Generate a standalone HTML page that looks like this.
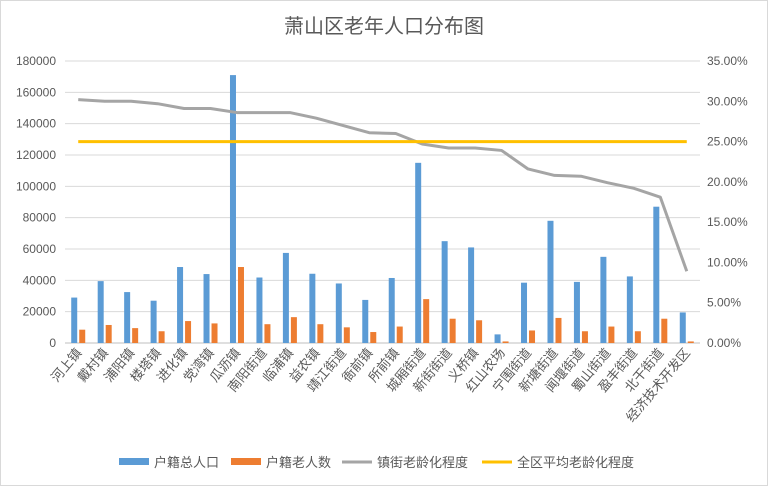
<!DOCTYPE html>
<html><head><meta charset="utf-8"><style>
body{margin:0;background:#fff;}
svg text{font-family:"Liberation Sans","Noto Sans CJK SC",sans-serif;}
</style></head><body>
<svg id="chart" width="768" height="486" viewBox="0 0 768 486" xmlns="http://www.w3.org/2000/svg">
<rect x="0.5" y="0.5" width="767" height="485" fill="#fff" stroke="#d9d9d9"/>
<text x="384" y="33" text-anchor="middle" font-size="20" fill="#595959">萧山区老年人口分布图</text>
<g id="grid"></g><g id="axes"></g><g id="marks"></g>
<g id="legend">
<rect x="119" y="458" width="30" height="7" fill="#5b9bd5"/><text x="154" y="467" font-size="13" fill="#595959">户籍总人口</text>
<rect x="231" y="458" width="30" height="7" fill="#ed7d31"/><text x="266" y="467" font-size="13" fill="#595959">户籍老人数</text>
<line x1="342" y1="462" x2="372" y2="462" stroke="#a5a5a5" stroke-width="3"/><text x="377" y="467" font-size="13" fill="#595959">镇街老龄化程度</text>
<line x1="482" y1="462" x2="512" y2="462" stroke="#ffc000" stroke-width="3"/><text x="517" y="467" font-size="13" fill="#595959">全区平均老龄化程度</text>
</g>
</svg>
<script>
const categories=["河上镇","戴村镇","浦阳镇","楼塔镇","进化镇","党湾镇","瓜沥镇","南阳街道","临浦镇","益农镇","靖江街道","衙前镇","所前镇","城厢街道","新街街道","义桥镇","红山农场","宁围街道","新塘街道","闻堰街道","蜀山街道","盈丰街道","北干街道","经济技术开发区"];
const totalPop=[29000,39500,32500,27000,48500,44000,171000,41800,57500,44200,38000,27500,41500,115000,65000,61000,5500,38500,78000,39000,55000,42500,87000,19500];
const elderly=[8500,11500,9500,7500,14000,12500,48500,12000,16500,12000,10000,7000,10500,28000,15500,14500,1000,8000,16000,7500,10500,7500,15500,1000];
const agingRate=[30.2,30.0,30.0,29.7,29.1,29.1,28.6,28.6,28.6,27.9,27.0,26.1,26.0,24.7,24.2,24.2,23.9,21.6,20.8,20.7,19.9,19.2,18.1,8.9];
const averageRate=25;
const leftTicks=[0,20000,40000,60000,80000,100000,120000,140000,160000,180000];
const rightTicks=[0,5,10,15,20,25,30,35];
const NS="http://www.w3.org/2000/svg";
const X0=65,X1=700,Y0=343,Y1=61;
const bw=(X1-X0)/categories.length;
const yL=v=>Y0-(v/180000)*(Y0-Y1);
const yR=v=>Y0-(v/35)*(Y0-Y1);
const xC=i=>X0+bw*(i+0.5);
function mk(tag,attrs,parent){const e=document.createElementNS(NS,tag);for(const k in attrs)e.setAttribute(k,attrs[k]);document.getElementById(parent).appendChild(e);return e;}
leftTicks.forEach(t=>{
 const g=mk('line',{x1:X0,x2:X1,y1:yL(t),y2:yL(t),stroke:t===0?'#bfbfbf':'#d9d9d9','stroke-width':1},'grid');
 
 
 const tx=mk('text',{x:X0-9,y:yL(t)+4,'text-anchor':'end','font-size':12,fill:'#595959'},'axes');
 tx.textContent=t;
 
 
});
rightTicks.forEach(t=>{
 const tx=mk('text',{x:X1+7,y:yR(t)+4,'font-size':12,fill:'#595959'},'axes');
 tx.textContent=t.toFixed(2)+'%';
 
 
});
categories.forEach((c,i)=>{
 const tx=mk('text',{x:xC(i)+4,y:Y0+10,'text-anchor':'end','font-size':13,fill:'#595959',transform:`rotate(-50 ${xC(i)+4} ${Y0+10})`},'axes');
 tx.textContent=c;
 
 
 const b=mk('rect',{x:xC(i)-7,y:yL(totalPop[i]),width:6,height:Y0-yL(totalPop[i]),fill:'#5b9bd5'},'marks');
 
 
 const o=mk('rect',{x:xC(i)+1,y:yL(elderly[i]),width:6,height:Y0-yL(elderly[i]),fill:'#ed7d31'},'marks');
 
 
});
const ln=mk('polyline',{points:agingRate.map((v,i)=>xC(i)+','+yR(v)).join(' '),fill:'none',stroke:'#a5a5a5','stroke-width':3,'stroke-linejoin':'round'},'marks');


const av=mk('polyline',{points:categories.map((c,i)=>xC(i)+','+yR(averageRate)).join(' '),fill:'none',stroke:'#ffc000','stroke-width':3},'marks');


</script>
</body></html>
